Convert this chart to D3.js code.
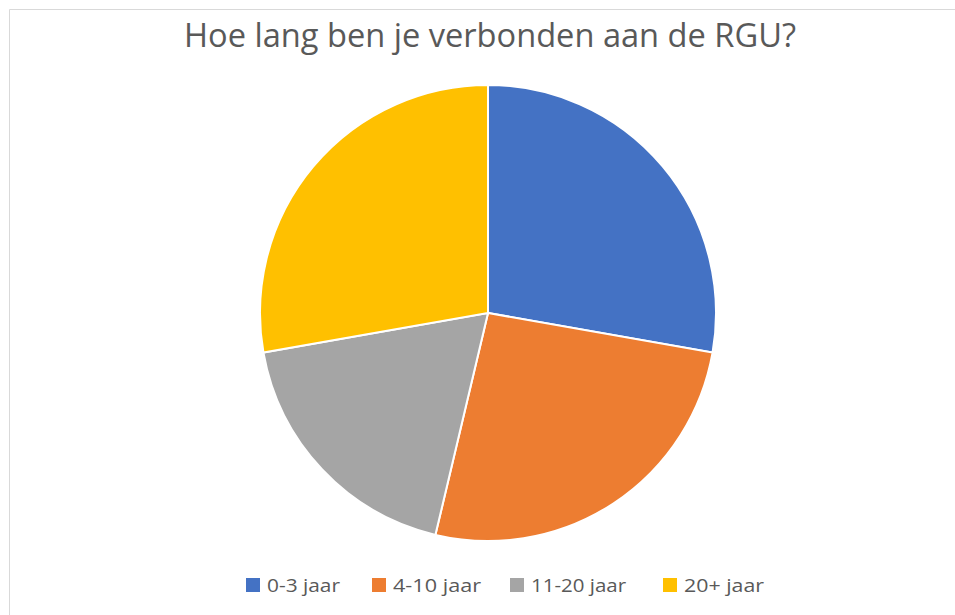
<!DOCTYPE html>
<html>
<head>
<meta charset="utf-8">
<script src="https://cdn.jsdelivr.net/npm/d3@7"></script>
<style>
  body { margin: 0; background: #fff; }
  svg { display: block; }
</style>
</head>
<body>
<script>
var categories = ["0-3 jaar", "4-10 jaar", "11-20 jaar", "20+ jaar"];
var values = [15, 14, 10, 15];
var colors = ["#4472c4", "#ed7d31", "#a5a5a5", "#ffc000"];
var title = "Hoe lang ben je verbonden aan de RGU?";

var w = 955, h = 615;
var cx = 488, cy = 313, r = 228;

var svg = d3.select("body").append("svg")
  .attr("width", w)
  .attr("height", h);

// chart area border (cut off at right/bottom)
svg.append("path")
  .attr("d", "M9.5," + h + "V9.5H" + w)
  .attr("fill", "none")
  .attr("stroke", "#d9d9d9")
  .attr("stroke-width", 1);

svg.append("text")
  .attr("x", 184)
  .attr("y", 47)
  .attr("font-family", "'Open Sans', 'Noto Sans', sans-serif")
  .attr("font-size", 33)
  .attr("textLength", 612)
  .attr("lengthAdjust", "spacingAndGlyphs")
  .attr("fill", "#595959")
  .text(title);

var pie = d3.pie().sort(null)(values);
var arc = d3.arc().innerRadius(0).outerRadius(r);

svg.append("g")
  .attr("transform", "translate(" + cx + "," + cy + ")")
  .selectAll("path")
  .data(pie)
  .enter()
  .append("path")
  .attr("d", arc)
  .attr("fill", function(d, i) { return colors[i]; })
  .attr("stroke", "#fff")
  .attr("stroke-width", 2);

// legend
var legendX = [246, 372, 510, 663];
var legendW = [73, 88, 95, 80];
var legend = svg.append("g").selectAll("g")
  .data(categories)
  .enter()
  .append("g")
  .attr("transform", function(d, i) { return "translate(" + legendX[i] + ",578)"; });

legend.append("rect")
  .attr("width", 14)
  .attr("height", 14)
  .attr("fill", function(d, i) { return colors[i]; });

legend.append("text")
  .attr("x", 21)
  .attr("y", 14)
  .attr("font-family", "'Open Sans', 'Noto Sans', sans-serif")
  .attr("font-size", 18)
  .attr("textLength", function(d, i) { return legendW[i]; })
  .attr("lengthAdjust", "spacingAndGlyphs")
  .attr("fill", "#595959")
  .text(function(d) { return d; });
</script>
</body>
</html>
